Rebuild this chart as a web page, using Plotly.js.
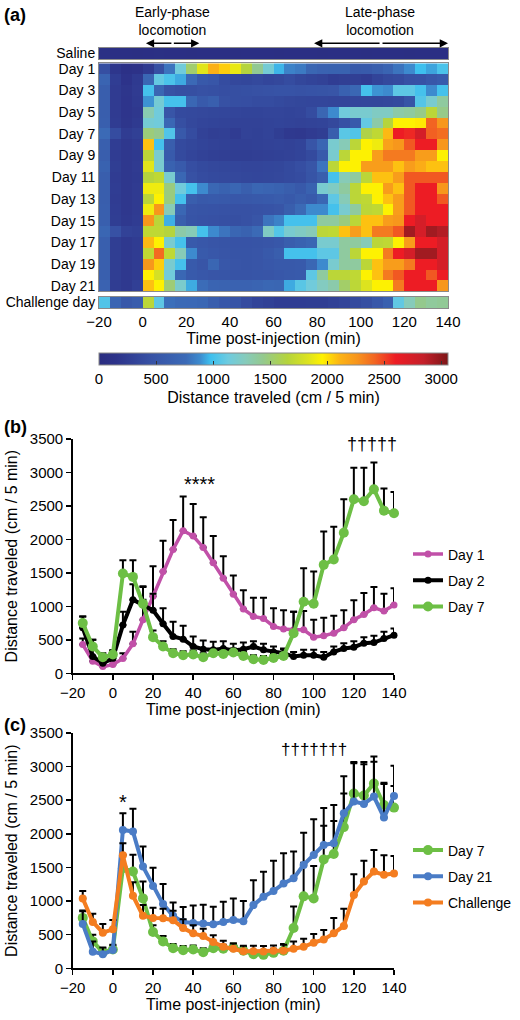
<!DOCTYPE html>
<html><head><meta charset="utf-8">
<script src="https://cdn.plot.ly/plotly-3.0.1.min.js"></script>
<style>html,body{margin:0;padding:0;background:#fff}#chart{width:520px;height:1020px}</style>
</head><body><div id="chart"></div>
<script>
// ---------- data ----------
const times = [-15,-10,-5,0,5,10,15,20,25,30,35,40,45,50,55,60,65,70,75,80,85,90,95,100,105,110,115,120,125,130,135,140];
const xTicks = [-20,0,20,40,60,80,100,120,140];

const day1Mean = [430,180,100,130,220,440,800,1150,1520,1850,2130,2050,1880,1650,1420,1180,960,850,820,700,660,650,650,540,560,600,680,800,880,980,930,1020];
const day1Err  = [90,60,40,50,80,180,300,450,460,440,510,480,450,400,330,280,280,280,310,270,280,270,280,260,270,260,260,290,320,310,260,250];
const day2Mean = [680,250,150,225,720,1100,1020,940,740,550,510,400,360,350,370,340,360,400,350,320,300,250,270,270,240,320,370,390,450,460,520,570];
const day2Err  = [170,250,120,120,200,230,280,250,230,220,200,150,130,120,110,100,100,80,90,80,70,70,80,80,80,80,80,90,90,100,100,100];
const day7Mean = [750,400,240,280,1490,1440,1040,540,400,300,270,280,240,300,290,310,260,210,200,230,260,600,1070,1040,1620,1700,2100,2600,2570,2750,2430,2390];
const day7Err  = [100,100,60,60,200,250,250,100,80,60,60,60,60,60,60,60,60,60,60,60,100,320,500,480,500,490,500,470,500,400,330,320];
const day21Mean = [660,248,210,272,2058,2034,1513,1225,955,780,690,675,665,655,690,720,700,940,1065,1150,1263,1338,1538,1686,1835,1860,2306,2480,2445,2554,2242,2564];
const day21Err  = [200,150,100,80,250,340,300,270,300,200,220,260,280,260,300,320,300,370,370,450,450,400,480,530,550,570,550,570,590,520,500,450];
const challengeMean = [1040,690,530,580,1680,1080,780,750,745,715,600,520,480,390,320,290,255,255,250,260,260,290,320,380,430,520,630,1090,1290,1440,1390,1410];
const challengeErr  = [110,120,130,140,180,200,160,150,140,140,130,120,110,100,90,80,80,80,80,80,90,110,120,130,140,230,255,310,310,320,290,260];

// heatmap rows (cm / 5 min per 5-min bin)
const saline = [70,60,55,50,60,65,55,60,50,55,60,55,50,55,60,55,50,55,60,55,50,55,60,55,50,55,60,55,50,55,60,55];
const day3  = [600,230,180,230,1000,700,460,430,430,450,440,420,430,440,450,460,470,470,460,470,480,500,640,720,1000,900,880,1080,1080,1000,880,1000];
const day4  = [600,230,170,220,900,1180,1000,1000,720,560,620,450,430,420,400,400,380,360,350,340,340,330,330,340,350,350,360,380,480,1050,1200,1380];
const day5  = [600,230,170,200,1320,1150,500,380,370,360,350,340,330,320,320,330,330,320,330,400,700,880,1150,1200,1200,1250,1250,1350,1380,1450,1680,1450];
const day6  = [620,240,180,220,1180,1150,720,430,360,330,320,310,300,300,300,310,320,310,300,310,320,360,450,560,1100,1350,1650,1950,1950,1980,2420,2250];
const day8  = [620,250,200,230,2080,1000,600,380,350,320,300,290,280,280,290,300,310,300,320,500,700,1200,1300,1680,1950,1900,2200,2250,2450,2600,2600,2250];
const day9  = [600,240,200,220,1680,1200,560,380,330,300,280,270,260,260,270,280,290,300,320,380,560,1200,1680,1950,1950,2220,2350,2350,2350,2220,2220,1950];
const day10 = [650,260,200,230,1850,1200,650,560,420,380,360,350,340,330,330,340,350,380,420,500,800,1680,1950,1950,2220,2220,2220,2080,2220,2150,2080,2080];
const day11 = [600,240,200,220,1650,1700,1200,720,450,400,380,370,360,350,340,350,360,380,400,480,600,1000,1300,1380,1680,2080,2080,2220,2450,2450,2450,2450];
const day12 = [600,250,200,230,1900,1900,1480,1150,1000,880,720,650,700,620,700,680,650,600,550,650,1200,1250,1380,1680,1950,1950,2220,2080,2450,2600,2600,2250];
const day13 = [600,240,200,230,1680,1950,1480,1000,600,550,560,540,520,530,540,560,580,550,600,560,720,1080,1300,1680,1700,1950,2080,2220,2450,2600,2600,2450];
const day14 = [620,250,200,230,1900,2250,1300,720,500,480,470,460,450,450,460,470,500,600,750,880,880,1000,1200,1380,1680,1700,1950,2220,2450,2600,2600,2600];
const day15 = [620,260,210,240,2250,1680,950,600,480,460,450,440,430,450,500,800,850,1000,1000,1000,1380,1380,1480,1680,2080,2080,2220,2250,2600,2750,2600,2600];
const day16 = [700,450,300,280,1700,1700,1650,1350,1300,1000,880,800,700,650,750,1250,1050,1200,1250,1300,1680,1700,2080,2220,2080,2350,2350,2450,2950,2750,2950,2900];
const day17 = [620,260,210,240,2100,1950,1200,1000,560,520,500,480,470,470,480,500,520,600,650,700,1200,1200,1380,1380,1300,1680,1700,1950,2220,2600,2600,2750];
const day18 = [620,260,210,240,1700,2400,1700,1300,880,560,520,500,480,480,500,550,600,1000,1000,1000,1080,1080,1380,1680,1950,1950,2350,2600,2750,2950,2950,2750];
const day19 = [620,260,210,240,2250,2050,1200,1000,560,500,700,520,500,480,500,520,540,540,560,720,880,1200,1380,1380,1680,2080,2220,2220,2350,2600,2600,2750];
const day20 = [620,260,210,240,1950,1800,1150,720,560,520,500,490,480,480,490,500,520,540,560,1080,1380,1680,1680,1700,1950,2080,2350,2450,2600,2600,2450,2600];
const heatDay21 = [660,248,210,272,2080,1950,1500,1215,942,769,684,670,660,655,684,720,700,940,1066,1150,1265,1339,1538,1686,1835,1950,1950,2350,2600,2600,2600,2250];

const heatDays = [1,2,3,4,5,6,7,8,9,10,11,12,13,14,15,16,17,18,19,20,21];
const heatLabelDays = [1,3,5,7,9,11,13,15,17,19,21];
const colorTicks = [0,500,1000,1500,2000,2500,3000];

// ---------- helpers ----------
const W = 520, H = 1020;
const px = v => v / W;
const py = v => 1 - v / H;
const FONT = 'Liberation Sans, Arial, sans-serif';

const colorscale = [
  [0.00, '#2a2d80'], [0.05, '#2d338a'], [0.15, '#3752a5'], [0.25, '#3b6bb7'],
  [0.29, '#3d8ccf'], [0.32, '#3ec0ee'], [0.37, '#6ecbdf'], [0.42, '#86cbbb'],
  [0.47, '#94c98e'], [0.54, '#b5d43c'], [0.60, '#dde31f'], [0.64, '#fff200'],
  [0.69, '#fcb415'], [0.74, '#f7941d'], [0.79, '#f26522'], [0.85, '#ed1c24'],
  [0.93, '#c4202a'], [1.00, '#7d1517']
];
const ZMAX = 3060;
const hmX = [times[0] - 5].concat(times);

const heatZ = [day1Mean, day2Mean, day3, day4, day5, day6, day7Mean, day8, day9, day10, day11, day12,
  day13, day14, day15, day16, day17, day18, day19, day20, heatDay21];

const traces = [];
traces.push({type:'heatmap', x: hmX, y: ['Saline'], z: [saline], xaxis:'x2', yaxis:'y2',
  colorscale, zmin:0, zmax:ZMAX, showscale:false, hoverinfo:'skip'});
traces.push({type:'heatmap', x: hmX, y: heatDays, z: heatZ, xaxis:'x', yaxis:'y',
  colorscale, zmin:0, zmax:ZMAX, showscale:true, hoverinfo:'skip',
  colorbar:{orientation:'h', x:px(273.5), xanchor:'center', y:py(353), yanchor:'top',
    len:349, lenmode:'pixels', thickness:12, thicknessmode:'pixels', xpad:0, ypad:0,
    outlinewidth:1, outlinecolor:'#888', tickvals: colorTicks, ticks:'inside', ticklen:4,
    tickcolor:'#333', tickfont:{size:15, color:'#000'},
    title:{text:'Distance traveled (cm / 5 min)', side:'bottom', font:{size:16, color:'#000'}}}});
traces.push({type:'heatmap', x: hmX, y: ['Challenge day'], z: [challengeMean], xaxis:'x3', yaxis:'y3',
  colorscale, zmin:0, zmax:ZMAX, showscale:false, hoverinfo:'skip'});

function lineTrace(name, y, err, color, msize, lw, xa, ya, legend) {
  return {type:'scatter', mode:'lines+markers', name, x: times, y,
    xaxis: xa, yaxis: ya, legend, legendgroup: legend + name, cliponaxis:false,
    line:{color, width:lw}, marker:{color, size:msize},
    error_y:{type:'data', symmetric:false, array: err, arrayminus: err.map(() => 0),
      color:'#000', thickness:2, width:3.5}};
}
const MAG = '#c150a8', GRN = '#6dbf45', BLU = '#4a7cc6', ORG = '#f47d20';
traces.push(lineTrace('Day 1', day1Mean, day1Err, MAG, 7, 3.5, 'x4', 'y4', 'legend'));
traces.push(lineTrace('Day 2', day2Mean, day2Err, '#000', 7, 4, 'x4', 'y4', 'legend'));
traces.push(lineTrace('Day 7', day7Mean, day7Err, GRN, 10, 4, 'x4', 'y4', 'legend'));
traces.push(lineTrace('Day 7', day7Mean, day7Err, GRN, 10, 4, 'x5', 'y5', 'legend2'));
traces.push(lineTrace('Day 21', day21Mean, day21Err, BLU, 8, 4, 'x5', 'y5', 'legend2'));
traces.push(lineTrace('Challenge', challengeMean, challengeErr, ORG, 8, 4, 'x5', 'y5', 'legend2'));

const hmDom = [px(99), px(448)];
const boxAxis = {showline:true, mirror:true, linecolor:'#8a8a8a', linewidth:1, showgrid:false, zeroline:false, ticks:''};
const tf = {size:15, color:'#000'};

const lineX = (anchor) => ({domain:[px(72.7), px(394)], anchor, range:[-20,140], tickvals:xTicks,
  ticks:'outside', ticklen:5, tickwidth:1.5, tickcolor:'#000', showline:true, linewidth:1.5, linecolor:'#000',
  showgrid:false, zeroline:false, tickfont:tf,
  title:{text:'Time post-injection (min)', font:{size:16, color:'#000'}, standoff:4}});
const lineY = (anchor, dom) => ({domain:dom, anchor, range:[0,3500], dtick:500,
  ticks:'outside', ticklen:5, tickwidth:1.5, tickcolor:'#000', showline:true, linewidth:1.5, linecolor:'#000',
  showgrid:false, zeroline:false, tickfont:tf,
  title:{text:'Distance traveled (cm / 5 min)', font:{size:16, color:'#000'}, standoff:8}});

const ann = [];
const label = (t, x, y) => ann.push({text:'<b>'+t+'</b>', xref:'paper', yref:'paper', x:px(x), y:py(y),
  xanchor:'left', yanchor:'middle', showarrow:false, font:{size:18, color:'#000'}});
label('(a)', 2, 15); label('(b)', 2, 427); label('(c)', 2, 725);
const txt = (t, x, y, size) => ann.push({text:t, xref:'paper', yref:'paper', x:px(x), y:py(y),
  xanchor:'center', yanchor:'middle', showarrow:false, font:{size:size, color:'#000'}});
txt('Early-phase<br>locomotion', 172, 21, 14);
txt('Late-phase<br>locomotion', 380, 21, 14);
const arrow = (xHead, axPx) => ann.push({text:'', xref:'x', yref:'paper', x:xHead, y:py(43.3),
  ax:axPx, ay:0, showarrow:true, arrowhead:2, arrowsize:1.1, arrowwidth:1.5, arrowcolor:'#000', standoff:0});
arrow(1.5, 27); arrow(26, -27); arrow(78.6, 67); arrow(140, -67);
const sig = (t, xa, ya, x, y, size) => ann.push({text:t, xref:xa, yref:ya, x, y, showarrow:false,
  xanchor:'center', yanchor:'middle', font:{size, color:'#000'}});
sig('****', 'x4', 'y4', 43, 2830, 20);
sig('†††††', 'x4', 'y4', 129, 3420, 18);
sig('*', 'x5', 'y5', 5, 2480, 20);
sig('†††††††', 'x5', 'y5', 100, 3250, 17);

const layout = {
  width: W, height: H, margin:{l:0, r:0, t:0, b:0}, paper_bgcolor:'#fff', plot_bgcolor:'#fff',
  font:{family:FONT, color:'#000'}, hovermode:false,
  xaxis: Object.assign({}, boxAxis, {domain:hmDom, anchor:'y', range:[-20,140], showticklabels:false}),
  yaxis: Object.assign({}, boxAxis, {domain:[py(291.2), py(63.3)], anchor:'x', range:[21.5,0.5],
    tickvals: heatLabelDays, ticktext: heatLabelDays.map(d => 'Day ' + d), tickfont:{size:14, color:'#000'}}),
  xaxis2: Object.assign({}, boxAxis, {domain:hmDom, anchor:'y2', range:[-20,140], showticklabels:false}),
  yaxis2: Object.assign({}, boxAxis, {domain:[py(59.3), py(47.7)], anchor:'x2', tickfont:{size:14, color:'#000'}}),
  xaxis3: Object.assign({}, boxAxis, {domain:hmDom, anchor:'y3', range:[-20,140], tickvals:xTicks,
    tickfont:tf, title:{text:'Time post-injection (min)', font:{size:16, color:'#000'}, standoff:2}}),
  yaxis3: Object.assign({}, boxAxis, {domain:[py(308.3), py(296.7)], anchor:'x3', tickfont:{size:14, color:'#000'}}),
  xaxis4: lineX('y4'),
  yaxis4: lineY('x4', [py(673.3), py(439)]),
  xaxis5: lineX('y5'),
  yaxis5: lineY('x5', [py(968.3), py(733)]),
  legend: {x:px(408), y:py(538.5), xanchor:'left', yanchor:'top', font:{size:14, color:'#000'},
    tracegroupgap:5, bgcolor:'rgba(0,0,0,0)', borderwidth:0},
  legend2: {x:px(408), y:py(834.5), xanchor:'left', yanchor:'top', font:{size:14, color:'#000'},
    tracegroupgap:5, bgcolor:'rgba(0,0,0,0)', borderwidth:0},
  annotations: ann
};
Plotly.newPlot('chart', traces, layout, {staticPlot:true, displayModeBar:false});
</script>
</body></html>
